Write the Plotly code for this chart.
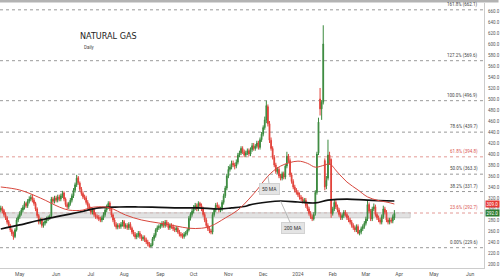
import plotly.graph_objects as go
import pandas as pd

# ---------------- data ----------------
open_ = [298, 302, 297, 290, 284, 277, 270, 262, 256, 250,
         262, 280, 286, 292, 298, 303, 310, 306, 314, 318,
         322, 316, 310, 300, 288, 276, 281, 270, 274, 278,
         282, 284, 288, 318, 314, 320, 316, 322, 318, 324,
         329, 318, 308, 304, 310, 316, 324, 334, 344, 357,
         347, 336, 328, 322, 320, 312, 306, 300, 294, 298,
         290, 286, 285, 282, 280, 284, 290, 298, 304, 311,
         300, 289, 280, 272, 267, 270, 268, 272, 277, 268,
         270, 266, 272, 265, 258, 254, 249, 252, 256, 250,
         246, 248, 244, 240, 236, 232, 234, 246, 252, 262,
         266, 268, 270, 274, 270, 276, 272, 266, 270, 268,
         264, 262, 265, 258, 254, 252, 250, 254, 256, 262,
         283, 290, 296, 303, 306, 300, 310, 306, 300, 290,
         280, 270, 264, 260, 258, 290, 298, 307, 304, 298,
         300, 312, 324, 338, 360, 372, 376, 383, 380, 378,
         385, 398, 402, 410, 404, 398, 402, 406, 400, 408,
         415, 410, 414, 420, 412, 426, 436, 448, 462, 486,
         455, 425, 410, 394, 380, 368, 372, 360, 356, 364,
         358, 378, 396, 388, 362, 350, 340, 334, 330, 326,
         321, 318, 314, 316, 306, 300, 292, 286, 282, 292,
         330, 402, 500, 482, 494, 388, 342, 356, 398, 390,
         292, 300, 312, 304, 298, 290, 284, 288, 294, 290,
         284, 280, 276, 270, 266, 262, 268, 256, 258, 264,
         268, 274, 282, 308, 296, 282, 300, 304, 290, 284,
         280, 276, 286, 300, 294, 280, 276, 280, 278, 284]
high = [306, 305, 300, 294, 287, 280, 273, 265, 259, 265,
        284, 290, 296, 302, 307, 314, 313, 318, 323, 326,
        326, 320, 313, 303, 291, 284, 284, 277, 281, 286,
        288, 290, 322, 322, 324, 324, 326, 326, 328, 333,
        332, 321, 312, 313, 320, 328, 338, 348, 362, 360,
        350, 340, 332, 326, 324, 316, 310, 304, 302, 302,
        294, 290, 289, 286, 288, 294, 302, 308, 314, 314,
        303, 292, 284, 276, 274, 274, 276, 280, 280, 274,
        274, 276, 276, 268, 262, 258, 256, 260, 260, 254,
        252, 252, 248, 244, 240, 238, 249, 256, 265, 270,
        272, 274, 278, 278, 280, 280, 276, 274, 274, 272,
        268, 269, 268, 262, 258, 256, 258, 260, 265, 287,
        294, 300, 307, 311, 310, 314, 313, 310, 304, 294,
        284, 274, 268, 264, 294, 302, 311, 312, 308, 304,
        316, 328, 342, 364, 378, 381, 388, 388, 384, 390,
        402, 406, 414, 414, 408, 406, 410, 410, 412, 420,
        420, 418, 424, 424, 430, 440, 452, 468, 496.9, 490,
        460, 430, 414, 398, 384, 376, 376, 364, 368, 368,
        382, 404, 400, 392, 366, 354, 344, 338, 334, 330,
        325, 322, 320, 320, 310, 304, 296, 290, 294, 334,
        404, 466, 520, 498, 634, 392, 360, 426, 404, 392,
        304, 318, 316, 308, 302, 294, 292, 298, 298, 294,
        288, 284, 280, 274, 270, 272, 272, 262, 268, 272,
        278, 286, 316, 312, 300, 304, 310, 308, 294, 288,
        284, 290, 306, 304, 298, 284, 284, 284, 290, 298]
low = [294, 292, 286, 280, 272, 266, 258, 251, 244, 247,
       259, 276, 282, 288, 294, 299, 302, 302, 310, 314,
       312, 306, 296, 284, 272, 272, 266, 266, 270, 274,
       278, 280, 285, 310, 310, 312, 312, 314, 314, 320,
       314, 304, 300, 300, 306, 312, 320, 330, 340, 344,
       332, 324, 318, 316, 308, 302, 296, 290, 290, 286,
       282, 281, 278, 276, 276, 280, 286, 294, 300, 296,
       285, 276, 268, 263, 263, 264, 264, 268, 264, 264,
       262, 262, 262, 254, 250, 245, 245, 248, 246, 242,
       242, 240, 236, 232, 229.6, 230, 232, 242, 248, 258,
       262, 264, 266, 266, 266, 268, 262, 262, 264, 260,
       258, 258, 255, 250, 248, 246, 246, 250, 252, 259,
       279, 286, 292, 298, 296, 296, 302, 296, 286, 276,
       266, 260, 256, 254, 254, 286, 294, 300, 294, 294,
       296, 308, 320, 334, 356, 368, 372, 376, 372, 374,
       381, 394, 398, 400, 394, 394, 398, 396, 396, 404,
       406, 406, 410, 408, 408, 422, 432, 444, 456, 450,
       420, 406, 390, 376, 364, 364, 356, 352, 352, 354,
       354, 374, 384, 358, 346, 336, 330, 326, 322, 317,
       314, 310, 310, 302, 296, 288, 282, 278, 279, 288,
       326, 398, 470, 462, 490, 334, 336, 352, 380, 284,
       288, 296, 300, 294, 286, 280, 280, 284, 286, 280,
       276, 272, 266, 262, 258, 258, 254, 252, 254, 260,
       264, 270, 278, 292, 278, 278, 296, 286, 280, 276,
       272, 272, 282, 290, 276, 272, 272, 274, 274, 280]
close = [302, 296, 290, 284, 276, 270, 262, 255, 249, 262,
         280, 286, 292, 298, 303, 310, 306, 314, 318, 321,
         316, 310, 300, 288, 276, 280, 270, 274, 278, 282,
         284, 286, 318, 314, 320, 316, 322, 318, 324, 328,
         318, 308, 304, 310, 316, 324, 334, 344, 356, 348,
         336, 328, 322, 320, 312, 306, 300, 294, 298, 290,
         286, 285, 282, 280, 284, 290, 298, 304, 310, 300,
         289, 280, 272, 267, 270, 268, 272, 276, 268, 270,
         266, 272, 265, 258, 254, 249, 252, 256, 250, 246,
         248, 244, 240, 236, 232, 234, 246, 252, 262, 266,
         268, 270, 274, 270, 276, 272, 266, 270, 268, 264,
         262, 265, 258, 254, 252, 250, 254, 256, 262, 283,
         290, 296, 303, 306, 300, 310, 306, 300, 290, 280,
         270, 264, 260, 258, 290, 298, 307, 304, 298, 300,
         312, 324, 338, 360, 372, 376, 383, 380, 378, 385,
         398, 402, 410, 404, 398, 402, 406, 400, 408, 415,
         410, 414, 420, 412, 426, 436, 448, 462, 488, 455,
         425, 410, 394, 380, 368, 372, 360, 356, 364, 358,
         378, 396, 388, 362, 350, 340, 334, 330, 326, 321,
         318, 314, 316, 306, 300, 292, 286, 282, 290, 330,
         400, 458, 482, 494, 600, 340, 352, 398, 388, 292,
         300, 312, 304, 298, 290, 284, 288, 294, 290, 284,
         280, 276, 270, 266, 262, 268, 256, 258, 264, 268,
         274, 282, 308, 296, 282, 300, 304, 290, 284, 280,
         276, 286, 300, 294, 280, 276, 280, 278, 286, 292]

ma50_idx = [0, 12, 25, 37, 43, 52, 56, 62, 69, 79, 89, 100, 111, 119, 127, 133,
            142, 150, 157, 163, 169, 177, 188, 194, 199, 205, 208, 213, 219,
            226, 232, 238, 245, 249]
ma50_val = [340, 334.5, 320, 303.6, 298, 298, 302, 304, 302, 289, 280, 274.5,
            269, 265, 265, 269, 283.6, 298, 318, 338, 360, 378, 387, 383, 376,
            380, 382, 367, 349, 334.5, 322, 316, 312, 309]

ma200_idx = [0, 12, 25, 37, 50, 62, 75, 87, 100, 113, 125, 138, 146, 155, 157,
             169, 177, 188, 199, 207, 219, 232, 249]
ma200_val = [263.6, 271, 280, 287, 294.5, 302, 303.6, 303.6, 303, 302, 302, 300,
             302, 305, 307, 312.7, 314.5, 312.7, 311, 316, 318, 316, 314.5]

fib_names = ["0.00%", "23.6%", "38.2%", "50.0%", "61.8%", "78.6%", "100.0%", "127.2%", "161.8%"]
fib_vals = [229.6, 292.7, 331.7, 363.3, 394.8, 439.7, 496.9, 569.6, 662.1]
fib_red = [False, True, False, False, True, False, False, False, False]

zone = [284, 293]

month_dates = ["2023-05-01", "2023-06-01", "2023-07-03", "2023-08-01", "2023-09-01",
               "2023-10-02", "2023-11-01", "2023-12-01", "2024-01-02", "2024-02-01",
               "2024-03-01", "2024-04-01", "2024-05-01", "2024-06-03"]
month_text = ["May", "Jun", "Jul", "Aug", "Sep", "Oct", "Nov", "Dec", "2024",
              "Feb", "Mar", "Apr", "May", "Jun"]

# ---------------- figure ----------------
all_days = pd.bdate_range("2023-04-13", "2024-06-14")
dates = all_days[:len(close)]

fig = go.Figure()

fig.add_trace(go.Candlestick(
    x=dates, open=open_, high=high, low=low, close=close,
    increasing=dict(line=dict(color="#3b8a3e", width=1), fillcolor="#3b8a3e"),
    decreasing=dict(line=dict(color="#e2433b", width=1), fillcolor="#e2433b"),
    hoverinfo="skip",
))

fig.add_trace(go.Scatter(
    x=[dates[i] for i in ma200_idx], y=ma200_val, mode="lines",
    line=dict(color="#111111", width=1.7, shape="spline"), hoverinfo="skip"))
fig.add_trace(go.Scatter(
    x=[dates[i] for i in ma50_idx], y=ma50_val, mode="lines",
    line=dict(color="#d8473d", width=1, shape="spline"), hoverinfo="skip"))

shapes = []
annotations = []

# support zone
shapes.append(dict(type="rect", xref="x", yref="y",
                   x0="2023-04-12 12:00", x1=all_days[259], y0=zone[0], y1=zone[1],
                   fillcolor="#d9d9d9", opacity=0.75,
                   line=dict(color="#bdbdbd", width=1), layer="below"))

# fibonacci levels
for name, val, red in zip(fib_names, fib_vals, fib_red):
    col = "#e39a96" if red else "#9a9a9a"
    shapes.append(dict(type="line", xref="paper", yref="y", x0=0, x1=1, y0=val, y1=val,
                       line=dict(color=col, width=1, dash="dot"), layer="below"))
    annotations.append(dict(xref="paper", yref="y", x=0.992, y=val,
                            xanchor="right", yanchor="bottom", yshift=0,
                            text=f"{name} ({val:.1f})", showarrow=False,
                            font=dict(size=4.5, color="#d9534f" if red else "#444",
                                      family="Roboto")))

# top gray bar
shapes.append(dict(type="rect", xref="paper", yref="paper", x0=0, x1=1.03,
                   y0=1.002, y1=1.012, fillcolor="#b3b3b3", line=dict(width=0)))

# title
annotations.append(dict(xref="paper", yref="paper", x=0.162, y=0.877, xanchor="left",
                        yanchor="middle", text="NATURAL GAS", showarrow=False,
                        font=dict(size=9, color="#222", family="DejaVu Sans Condensed, DejaVu Sans")))
annotations.append(dict(xref="paper", yref="paper", x=0.169, y=0.832, xanchor="left",
                        yanchor="middle", text="Daily", showarrow=False,
                        font=dict(size=4.5, color="#444", family="Roboto")))

# MA callouts
annotations.append(dict(x=dates[169], y=ma50_val[ma50_idx.index(169)], xref="x", yref="y",
                        text="50 MA", showarrow=True, arrowhead=0, arrowwidth=0.8,
                        arrowcolor="#aaaaaa", ax=2, ay=13, bgcolor="#e4e4e4",
                        bordercolor="#d2d2d2", borderpad=2,
                        font=dict(size=5, color="#333", family="Roboto")))
annotations.append(dict(x=dates[177], y=ma200_val[ma200_idx.index(177)], xref="x", yref="y",
                        text="200 MA", showarrow=True, arrowhead=0, arrowwidth=0.8,
                        arrowcolor="#aaaaaa", ax=12, ay=27, bgcolor="#e4e4e4",
                        bordercolor="#d2d2d2", borderpad=2,
                        font=dict(size=5, color="#333", family="Roboto")))

# price boxes on axis
annotations.append(dict(xref="paper", yref="y", x=1, y=ma50_val[-1], xanchor="left",
                        xshift=1, text=f"{ma50_val[-1]:.1f}", showarrow=False,
                        bgcolor="#e53935", borderpad=0.5,
                        font=dict(size=4.5, color="white", family="Roboto")))
annotations.append(dict(xref="paper", yref="y", x=1, y=close[-1], xanchor="left",
                        xshift=1, text=f"{close[-1]:.1f}", showarrow=False,
                        bgcolor="#2e7d32", borderpad=0.5,
                        font=dict(size=4.5, color="white", family="Roboto")))

fig.update_layout(
    width=500, height=280,
    margin=dict(l=0, r=13, t=3, b=12),
    paper_bgcolor="white", plot_bgcolor="white",
    showlegend=False, hovermode=False,
    shapes=shapes, annotations=annotations,
    xaxis=dict(
        type="date",
        range=["2023-04-12 12:00", "2024-06-13 17:00"],
        rangebreaks=[dict(bounds=["sat", "mon"])],
        rangeslider=dict(visible=False),
        tickvals=month_dates, ticktext=month_text,
        tickfont=dict(size=5, color="#555", family="Roboto"),
        showgrid=False, zeroline=False, showline=True, linecolor="#cccccc",
        linewidth=1, ticks="", ticklabelstandoff=1,
    ),
    yaxis=dict(
        side="right", range=[192.7, 674.5], tick0=200, dtick=20,
        tickformat=".1f", tickfont=dict(size=4.5, color="#555", family="Roboto"),
        showgrid=False, zeroline=False, showline=True, linecolor="#cccccc",
        linewidth=1, ticks="", ticklabelstandoff=2,
    ),
)

fig.write_html("out.html")
